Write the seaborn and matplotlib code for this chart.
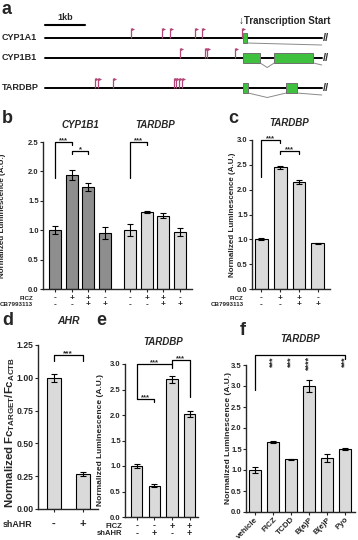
import numpy as np
import matplotlib
matplotlib.use("Agg")
import matplotlib.pyplot as plt
from matplotlib.patches import Rectangle
import seaborn as sns

# ---- panel a: promoter schematics (kb from left end of the drawn line)
GENES = ["CYP1A1", "CYP1B1", "TARDBP"]
SITES = {
    "CYP1A1": [2.14, 2.93, 3.13, 3.75, 3.93, 4.92],
    "CYP1B1": [3.38, 4.00, 4.06, 4.75],
    "TARDBP": [1.26, 1.32, 1.71, 3.23, 3.28, 3.35, 3.43],
}
EXONS = {
    "CYP1A1": [(4.95, 5.04)],
    "CYP1B1": [(4.95, 5.38), (5.73, 6.71)],
    "TARDBP": [(4.95, 5.08), (6.03, 6.29)],
}
TSS_KB = 4.93
LINE_END_KB = 6.92

# ---- panel b
FICZ_B = ["-", "+", "+", "-", "-", "+", "+", "-"]
CB_B = ["-", "-", "+", "+", "-", "-", "+", "+"]
CYP1B1_MEAN = [1.00, 1.94, 1.74, 0.95]
CYP1B1_SEM = [0.07, 0.09, 0.07, 0.10]
TARDBP_B_MEAN = [1.00, 1.31, 1.25, 0.97]
TARDBP_B_SEM = [0.10, 0.02, 0.04, 0.07]

# ---- panel c
FICZ_C = ["-", "+", "+", "-"]
CB_C = ["-", "-", "+", "+"]
TARDBP_C_MEAN = [1.00, 2.45, 2.15, 0.92]
TARDBP_C_SEM = [0.02, 0.03, 0.04, 0.01]

# ---- panel d
SHAHR_D = ["-", "+"]
AHR_MEAN = [1.00, 0.27]
AHR_SEM = [0.03, 0.015]

# ---- panel e
FICZ_E = ["-", "-", "+", "+"]
SHAHR_E = ["-", "+", "-", "+"]
TARDBP_E_MEAN = [1.00, 0.61, 2.70, 2.02]
TARDBP_E_SEM = [0.03, 0.03, 0.07, 0.05]

# ---- panel f
LIGANDS = ["vehicle", "FICZ", "TCDD", "B(a)P", "B(e)P", "Pyo"]
TARDBP_F_MEAN = [1.00, 1.67, 1.26, 3.00, 1.28, 1.50]
TARDBP_F_SEM = [0.08, 0.03, 0.01, 0.15, 0.09, 0.03]
STARS_F = ["", "***", "***", "****", "", "***"]

# brackets: (bar i, bar j, top, left leg end, right leg end, label)
BRACKETS_B = [(0, 1, 2.50, 1.89, 2.45, "***"), (1, 2, 2.35, 2.29, 2.29, "*"),
              (4, 5, 2.50, 1.89, 2.45, "***")]
BRACKETS_C = [(0, 1, 3.00, 2.26, 2.93, "***"), (1, 2, 2.78, 2.72, 2.72, "***")]
BRACKETS_D = [(0, 1, 1.17, 1.13, 1.13, "***")]
BRACKETS_E = [(0, 2, 3.00, 2.31, 2.93, "***"), (0, 1, 2.31, 2.31, 2.26, "***"),
              (2, 3, 3.08, 3.00, 2.36, "***")]

DARK = "#8e8e8e"
LIGHT = "#dadada"
W, H = 358, 540

sns.set_style("ticks")
plt.rcParams["font.family"] = ["Liberation Sans", "DejaVu Sans"]
plt.rcParams["font.weight"] = "bold"
plt.rcParams["mathtext.fontset"] = "custom"
plt.rcParams["mathtext.rm"] = "Liberation Sans:bold"
plt.rcParams["mathtext.bf"] = "Liberation Sans:bold"
plt.rcParams["mathtext.it"] = "Liberation Sans:bold:italic"

fig = plt.figure(figsize=(W / 100, H / 100), dpi=100)


def place(left, top, right, bottom):
    return fig.add_axes([left / W, 1 - bottom / H, (right - left) / W, (bottom - top) / H])


def bar_panel(ax, pos, means, sems, color, width, ylim, step, fs=5.5):
    sns.barplot(x=pos, y=means, native_scale=True, width=width, color=color,
                saturation=1, edgecolor="black", linewidth=0.8, errorbar=None, ax=ax)
    ax.errorbar(pos, means, yerr=sems, fmt="none", ecolor="black",
                elinewidth=0.8, capsize=2.2, capthick=0.8)
    ax.set_ylim(*ylim)
    ax.set_yticks(np.arange(ylim[0], ylim[1] + step / 2, step))
    sns.despine(ax=ax)
    for s in ("left", "bottom"):
        ax.spines[s].set_linewidth(1.0)
    ax.tick_params(axis="both", length=2, width=0.8, pad=1, labelsize=fs)
    ax.set_xlabel("")
    ax.set_ylabel("")


def brackets(ax, pos, items, fs=5.5):
    for i, j, top, l_end, r_end, lab in items:
        x1, x2 = pos[i], pos[j]
        ax.plot([x1, x1, x2, x2], [l_end, top, top, r_end], color="black",
                lw=0.9, clip_on=False)
        ax.annotate(lab, xy=((x1 + x2) / 2, top), xytext=(0, -1.5),
                    textcoords="offset points", ha="center", va="bottom",
                    fontsize=fs, fontweight="bold", annotation_clip=False)


def sign_rows(ax, pos, rows, labels, first_dy, row_dy, label_dx, fs=5.0, sfs=None):
    sfs = sfs or fs + 1
    for r, (signs, lab) in enumerate(zip(rows, labels)):
        dy = -(first_dy + r * row_dy)
        for x, s in zip(pos, signs):
            ax.annotate(s, xy=(x, 0), xycoords=("data", "axes fraction"),
                        xytext=(0, dy), textcoords="offset points",
                        ha="center", va="center", fontsize=sfs, fontweight="bold")
        ax.annotate(lab, xy=(0, 0), xycoords="axes fraction",
                    xytext=(-label_dx, dy), textcoords="offset points",
                    ha="right", va="center", fontsize=fs, fontweight="bold")


def title(ax, x, text, dy=9, fs=7):
    ax.annotate(text, xy=(x, 1), xycoords=("data", "axes fraction"),
                xytext=(0, dy), textcoords="offset points", ha="center",
                va="bottom", fontsize=fs, fontweight="bold", style="italic")


def letter(x, y, s):
    fig.text(x / W, 1 - y / H, s, fontsize=13, fontweight="bold", va="top", ha="left")


# ================= a
ax = place(0, 0, W, 105)
ax.set_xlim(-45 / 40, (W - 45) / 40)
ax.set_ylim(105, 0)
ax.axis("off")
TRACK_Y = [38, 58, 88]
for g, y in zip(GENES, TRACK_Y):
    ax.plot([0, LINE_END_KB], [y, y], color="black", lw=1.4, zorder=1)
    sites = SITES[g]
    ax.vlines(sites, y - 10, y, color="#b3477a", lw=0.9, zorder=2)
    ax.scatter(np.array(sites) + 0.05, np.full(len(sites), y - 9), marker=">",
               s=5, color="#b3477a", linewidths=0, zorder=2)
    ex = EXONS[g]
    for s, e in ex:
        ax.add_patch(Rectangle((s, y - 5), e - s, 10, facecolor="#3fc13f",
                               edgecolor="#707070", lw=0.7, zorder=3))
    for (s1, e1), (s2, e2) in zip(ex[:-1], ex[1:]):
        ax.plot([e1, (e1 + s2) / 2, s2], [y + 5, y + 9.5, y + 5], color="#8a8a8a",
                lw=0.7, zorder=2)
    ax.plot([ex[-1][1], LINE_END_KB], [y + 5, y + 7], color="#8a8a8a", lw=0.7, zorder=2)
    ax.text(LINE_END_KB + 0.02, y, "//", fontsize=8, va="center", ha="left",
            color="#333333")
    ax.text(-43 / 40, y, g, fontsize=6.5, fontweight="bold", va="center", ha="left")
ax.plot([0, 1], [25, 25], color="black", lw=1.5)
ax.text(0.5, 22, "1kb", fontsize=6.5, fontweight="bold", ha="center", va="bottom")
ax.text(TSS_KB - 0.08, 21, "\u2193Transcription Start", fontsize=7,
        fontweight="bold", ha="left", va="center")
letter(2, 1, "a")

# ================= b
ax = place(43, 142, 192, 289)
pos_b1 = np.arange(4)
pos_b2 = np.arange(4) + 4.5
bar_panel(ax, pos_b1, CYP1B1_MEAN, CYP1B1_SEM, DARK, 0.72, (0, 2.5), 0.5)
bar_panel(ax, pos_b2, TARDBP_B_MEAN, TARDBP_B_SEM, LIGHT, 0.72, (0, 2.5), 0.5)
pos_b = np.concatenate([pos_b1, pos_b2])
ax.set_xlim(-0.72, 8.22)
ax.set_xticks(pos_b)
ax.set_xticklabels([])
brackets(ax, pos_b, BRACKETS_B)
sign_rows(ax, pos_b, [FICZ_B, CB_B], ["FICZ", "CB7993113"], 6.5, 4.5, 7, fs=4.5, sfs=6)
title(ax, pos_b1.mean(), "CYP1B1")
title(ax, pos_b2.mean(), "TARDBP")
ax.set_ylabel("Normalized Luminescence (A.U.)", fontsize=5.8, fontweight="bold")
ax.yaxis.set_label_coords((6 - 43) / 149, 0.5)
letter(2, 110, "b")

# ================= c
ax = place(252, 140, 330, 289)
pos_c = np.arange(4)
bar_panel(ax, pos_c, TARDBP_C_MEAN, TARDBP_C_SEM, LIGHT, 0.68, (0, 3.0), 0.5)
ax.set_xlim(-0.5, 3.65)
ax.set_xticks(pos_c)
ax.set_xticklabels([])
brackets(ax, pos_c, BRACKETS_C)
sign_rows(ax, pos_c, [FICZ_C, CB_C], ["FICZ", "CB7993113"], 6.5, 4.5, 6, fs=4.5, sfs=6)
title(ax, 1.5, "TARDBP")
ax.set_ylabel("Normalized Luminescence (A.U.)", fontsize=5.8, fontweight="bold")
ax.yaxis.set_label_coords((236 - 252) / 78, 0.5)
letter(228, 110, "c")

# ================= d
ax = place(38, 345, 98, 509)
pos_d = np.arange(2)
bar_panel(ax, pos_d, AHR_MEAN, AHR_SEM, LIGHT, 0.48, (0, 1.25), 0.25, fs=6.2)
ax.set_xlim(-0.53, 1.51)
ax.set_xticks(pos_d)
ax.set_xticklabels([])
brackets(ax, pos_d, BRACKETS_D, fs=6)
sign_rows(ax, pos_d, [SHAHR_D], ["shAHR"], 11, 0, 4, fs=6.4, sfs=8)
title(ax, 0.5, "AHR", dy=14, fs=7.5)
ax.set_ylabel(r"Normalized Fc$_\mathregular{TARGET}$/Fc$_\mathregular{ACTB}$",
              fontsize=8.2, fontweight="bold")
ax.yaxis.set_label_coords((17 - 38) / 60, 0.47)
ax.yaxis.set_major_formatter(matplotlib.ticker.FormatStrFormatter("%.2f"))
letter(2, 312, "d")

# ================= e
ax = place(125, 364, 198, 517)
pos_e = np.arange(4)
bar_panel(ax, pos_e, TARDBP_E_MEAN, TARDBP_E_SEM, LIGHT, 0.63, (0, 3.0), 0.5)
ax.set_xlim(-0.66, 3.47)
ax.set_xticks(pos_e)
ax.set_xticklabels([])
brackets(ax, pos_e, BRACKETS_E)
sign_rows(ax, pos_e, [FICZ_E, SHAHR_E], ["FICZ", "shAHR"], 6.5, 5.5, 2, fs=5.5)
title(ax, 1.5, "TARDBP", dy=12)
ax.set_ylabel("Normalized Luminescence (A.U.)", fontsize=6, fontweight="bold")
ax.yaxis.set_label_coords((104 - 125) / 73, 0.5)
letter(96, 312, "e")

# ================= f
ax = place(246, 365, 355, 512)
pos_f = np.arange(6)
bar_panel(ax, pos_f, TARDBP_F_MEAN, TARDBP_F_SEM, LIGHT, 0.7, (0, 3.5), 0.5)
ax.set_xlim(-0.5, 5.55)
ax.set_xticks(pos_f)
ax.set_xticklabels(LIGANDS, rotation=45, ha="right", rotation_mode="anchor",
                   fontsize=5.8, fontweight="bold")
ax.plot([0, 0, 5, 5], [2.91, 3.75, 3.75, 3.65], color="black", lw=0.9, clip_on=False)
for x, st in zip(pos_f, STARS_F):
    if st:
        ax.text(x, 3.71, st, rotation=90, ha="center", va="top", fontsize=6.5,
                fontweight="bold", clip_on=False)
title(ax, 2.5, "TARDBP", dy=15)
ax.set_ylabel("Normalized Luminescence (A.U.)", fontsize=6, fontweight="bold")
ax.yaxis.set_label_coords((232 - 246) / 109, 0.5)
letter(240, 322, "f")

fig.savefig("out.png", dpi=100)
